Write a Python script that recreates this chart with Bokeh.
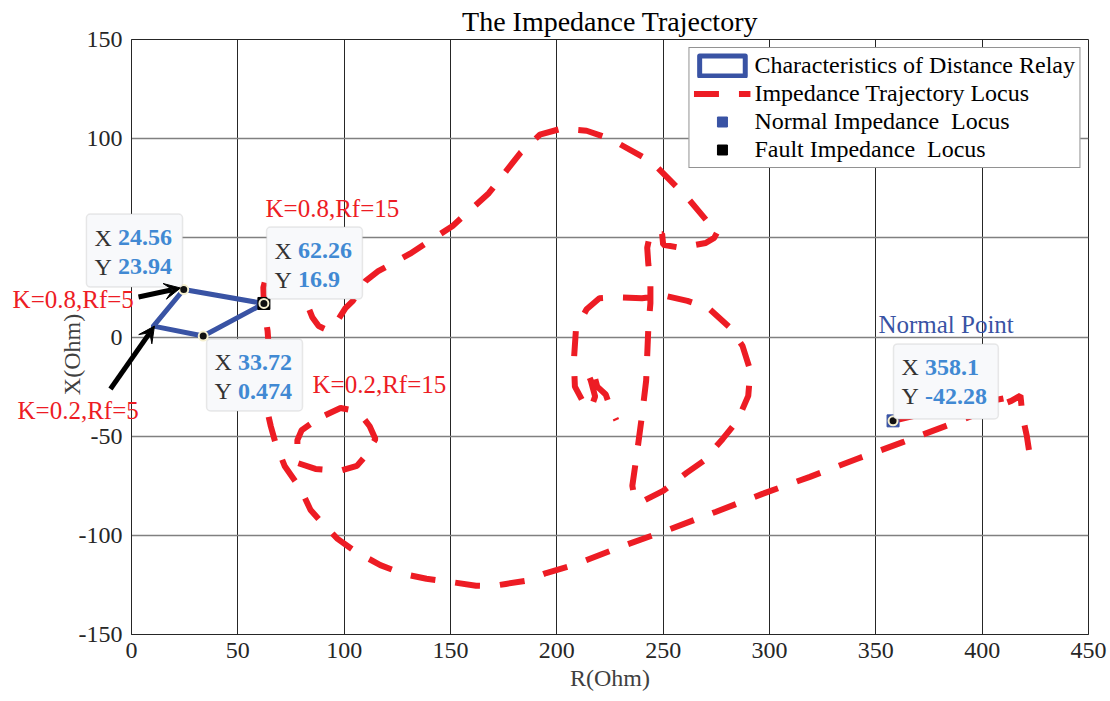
import math
from bokeh.plotting import figure
from bokeh.models import (Range1d, Label, BoxAnnotation, Arrow, VeeHead, Legend,
                          LegendItem, FixedTicker, GridBox, Column)
from bokeh.embed import file_html
from bokeh.resources import INLINE

NAN = float("nan")

# ---------------- data ----------------
x_ticks = [0, 50, 100, 150, 200, 250, 300, 350, 400, 450]
y_ticks = [-150, -100, -50, 0, 50, 100, 150]

# relay characteristic (quadrilateral)
relay_r = [10.3, 24.56, 62.26, 33.72, 10.3]
relay_x = [5.5, 23.94, 16.9, 0.474, 5.5]

# impedance trajectory (NaN separates pieces)
traj_r = [422, 421, 419, 418, 413.7, 385.5, 363, 341, 319, 296.7, 274.6, 252.5, 230, 208, 195,
          185.7, 176, 170, 162, 150, 138.7, 128, 117, 105, 96.9, 89, 84.2, 79.5, 72, 67.7, 65.5,
          64, 64, 64.5, 64, 63, 62.26, 62, 63, 68, 75, 79, 82, 85, 88, 91, 95, 100.6, 104, 110,
          116, 131, 151, 168, 183, 192, 202, 214, 225, 245, 262, 271, 276, 274, 270, 258, 250,
          249.5, 244, 242.5, 243, 244, 244, 243, 242, 240, 237.5, 235.5, 236.5, 240, 250, 261,
          269, 278, 285, 290, 291, 287.3, 281.6, 271.3, 261.4, 250, 240, 228, 220, 214, 209, 208,
          208.5, 212, 216, 218, 216, 214.5, 217, 219, 223, 225, 228,
          NAN,
          358.1, 375, 395, 410,
          NAN,
          84, 80, 78, 78, 86.5, 98, 106, 110, 114.7, 112, 109, 104, 98.3, 90]
traj_x = [-57, -50, -40, -29.5, -32.2, -43.8, -52.9, -61.5, -70.5, -79.1, -88.2, -97.2, -105.8,
          -115, -119, -122.9, -124.5, -125.5, -125.4, -123.5, -121.9, -119.5, -115, -108, -101.8,
          -93, -87.2, -76.6, -65, -53.4, -45, -38, -20, -5, 3, 10, 16.9, 25, 29, 31, 28, 24, 18,
          10, 5.5, 4, 5, 14.6, 18.1, 28.2, 33.2, 42, 56, 72.5, 93, 102, 105, 104, 100, 88, 69.5,
          58, 54, 50, 47.4, 45, 46.5, 52, 52.5, 45, 37, 28, 17, 4, -22, -40, -60, -75, -81, -83,
          -77.6, -68.5, -62.5, -51.4, -42, -29.7, -17, -4.5, 4.5, 14.6, 18.2, 21, 19.5, 20, 19.5,
          14, 4, -12, -25, -32, -36, -30, -22, -18, -17, -25, -29, -35, -42,
          NAN,
          -42.28, -38, -34, -31,
          NAN,
          -44, -47, -52, -63.5, -66.5, -67.5, -65, -60, -51.4, -45, -40.8, -37, -35.8, -40]

normal_r = [358.1]
normal_x = [-42.28]
fault_r = [62.26]
fault_x = [16.9]

tip_r = [24.56, 62.26, 33.72, 358.1]
tip_x = [23.94, 16.9, 0.474, -42.28]
tip_xtxt = ["24.56", "62.26", "33.72", "358.1"]
tip_ytxt = ["23.94", "16.9", "0.474", "-42.28"]
# tooltip boxes: left, right, top, bottom (data)
tip_box_l = [-21.2, 63.5, 35.3, 358.3]
tip_box_r = [24.0, 108.6, 80.4, 407.6]
tip_box_t = [62.0, 55.4, -1.0, -3.5]
tip_box_b = [25.2, 19.1, -37.3, -41.3]

notes = ["K=0.8,Rf=15", "K=0.8,Rf=5", "K=0.2,Rf=5", "K=0.2,Rf=15"]
notes_r = [63.0, -55.9, -53.6, 85.1]
notes_x = [65.0, 19.1, -37.3, -23.7]

# arrows: start -> end
arr_r0 = [3.3, -9.9]
arr_x0 = [20.2, -26.2]
arr_r1 = [23.0, 10.8]
arr_x1 = [24.7, 5.5]

# ---------------- layout / style ----------------
W, H = 1110, 701
FL, FR, FT, FB = 131, 1088, 39, 634   # frame edges in pixels
XMIN, XMAX, YMIN, YMAX = 0, 450, -150, 150
FONT = "Liberation Serif"
RED = "#ed1c24"
BLUE = "#3953a4"
TIPBLUE = "#4189d3"

p = figure(width=W, height=H, x_range=Range1d(XMIN, XMAX), y_range=Range1d(YMIN, YMAX),
           output_backend="svg", toolbar_location=None,
           min_border_left=FL, min_border_right=W - FR, min_border_top=FT,
           min_border_bottom=H - FB)
p.background_fill_color = "white"
p.border_fill_color = "white"
p.outline_line_color = "#262626"
p.outline_line_width = 1

p.xaxis.ticker = FixedTicker(ticks=x_ticks)
p.yaxis.ticker = FixedTicker(ticks=y_ticks)
p.yaxis.major_label_overrides = {t: str(t) for t in y_ticks}
for ax in (p.xaxis, p.yaxis):
    ax.major_tick_in = 0
    ax.major_tick_out = 0
    ax.minor_tick_in = 0
    ax.minor_tick_out = 0
    ax.axis_line_color = "#262626"
    ax.major_label_text_font = FONT
    ax.major_label_text_font_size = "24px"
    ax.major_label_text_color = "#262626"
    ax.axis_label_text_font = FONT
    ax.axis_label_text_font_size = "24px"
    ax.axis_label_text_font_style = "normal"
    ax.axis_label_text_color = "#404040"
p.xaxis.axis_label = "R(Ohm)"
p.xaxis.major_label_standoff = 8
p.xaxis.axis_label_standoff = 4
p.yaxis.major_label_standoff = 9

p.xgrid.grid_line_color = "#262626"
p.xgrid.grid_line_width = 1
p.ygrid.grid_line_color = "#808080"
p.ygrid.grid_line_width = 1.5

relay = p.patch(relay_r, relay_x, fill_color=None, line_color=BLUE, line_width=5,
                line_join="round")
traj = p.line(traj_r, traj_x, line_color=RED, line_width=6, line_dash="25 20")
normal = p.scatter(normal_r, normal_x, marker="square", size=12, fill_color=BLUE,
                   line_color=BLUE)
fault = p.scatter(fault_r, fault_x, marker="square", size=12, fill_color="black",
                  line_color="black")
p.scatter(tip_r, tip_x, marker="circle", size=9, fill_color="#111111",
          line_color="#f6f0cf", line_width=2)

legend = Legend(items=[
    LegendItem(label="Characteristics of Distance Relay", renderers=[relay]),
    LegendItem(label="Impedance Trajectory Locus", renderers=[traj]),
    LegendItem(label="Normal Impedance  Locus", renderers=[normal]),
    LegendItem(label="Fault Impedance  Locus", renderers=[fault]),
], location="top_right", margin=8, padding=4, spacing=1, glyph_width=57, glyph_height=25,
    label_standoff=4, label_text_font=FONT, label_text_font_size="24px",
    label_text_color="black", border_line_color="#262626", border_line_width=1,
    background_fill_color="white", background_fill_alpha=1)
p.add_layout(legend)

# ---- transparent overlay covering the whole canvas (for annotations outside the frame)
sx = (XMAX - XMIN) / (FR - FL)
sy = (YMAX - YMIN) / (FB - FT)
ov = figure(width=W, height=H,
            x_range=Range1d(XMIN - FL * sx, XMAX + (W - FR) * sx),
            y_range=Range1d(YMIN - (H - FB) * sy, YMAX + FT * sy),
            x_axis_type=None, y_axis_type=None, output_backend="svg",
            toolbar_location=None, min_border=0, min_border_left=0, min_border_right=0,
            min_border_top=0, min_border_bottom=0)
ov.outline_line_color = None
ov.background_fill_alpha = 0
ov.border_fill_alpha = 0
ov.grid.visible = False

for i in range(len(tip_r)):
    ov.add_layout(BoxAnnotation(left=tip_box_l[i], right=tip_box_r[i], top=tip_box_t[i],
                                bottom=tip_box_b[i], fill_color="#f8f9fb", fill_alpha=1.0,
                                line_color="#b5b5b5", line_width=1.5, border_radius=4))
for i in range(len(tip_r)):
    for j, (lab, val) in enumerate((("X", tip_xtxt[i]), ("Y", tip_ytxt[i]))):
        yo = -23.5 - 29 * j
        ov.add_layout(Label(x=tip_box_l[i], y=tip_box_t[i], x_offset=8, y_offset=yo, text=lab,
                            text_font=FONT, text_font_size="24px", text_color="#333333",
                            text_baseline="middle", text_align="left"))
        ov.add_layout(Label(x=tip_box_l[i], y=tip_box_t[i], x_offset=31.5, y_offset=yo,
                            text=val, text_font=FONT, text_font_size="24px",
                            text_font_style="bold", text_color=TIPBLUE,
                            text_baseline="middle", text_align="left"))

for t, r, x in zip(notes, notes_r, notes_x):
    ov.add_layout(Label(x=r, y=x, text=t, text_font=FONT, text_font_size="25px",
                        text_color=RED, text_baseline="middle", text_align="left"))
ov.add_layout(Label(x=351.2, y=6.5, text="Normal Point", text_font=FONT,
                    text_font_size="25px", text_color=BLUE, text_baseline="middle",
                    text_align="left"))
ov.add_layout(Label(x=(XMIN + XMAX) / 2, y=159.1, text="The Impedance Trajectory",
                    text_font=FONT, text_font_size="28px", text_color="black",
                    text_baseline="middle", text_align="center"))
# y-axis title (placed like the original, slightly below the axis centre)
ov.add_layout(Label(x=XMIN - 60 * sx, y=YMAX - (354 - FT) * sy, text="X(Ohm)", angle=math.pi / 2,
                    text_font=FONT, text_font_size="24px", text_color="#404040",
                    text_baseline="middle", text_align="center"))

for i in range(len(arr_r0)):
    ov.add_layout(Arrow(x_start=arr_r0[i], y_start=arr_x0[i], x_end=arr_r1[i],
                        y_end=arr_x1[i], line_width=5, line_color="black",
                        end=VeeHead(size=16, fill_color="black", line_color="black",
                                    line_width=1)))

layout = GridBox(children=[(p, 0, 0), (Column(children=[ov]), 0, 0)])
open("out.html", "w").write(file_html(layout, INLINE))
